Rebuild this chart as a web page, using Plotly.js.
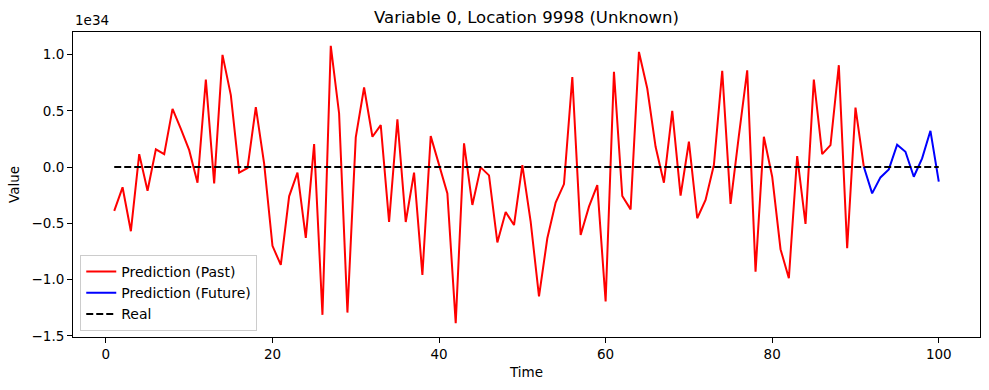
<!DOCTYPE html>
<html>
<head>
<meta charset="utf-8">
<script src="https://cdn.plot.ly/plotly-3.0.1.min.js"></script>
<style>html,body{margin:0;padding:0;background:#fff;}#chart{width:989px;height:390px;}</style>
</head>
<body>
<div id="chart"></div>
<script>
// Values are in units of 1e34 (matplotlib offset label "1e34")
const pastTime = [1,2,3,4,5,6,7,8,9,10,11,12,13,14,15,16,17,18,19,20,21,22,23,24,25,26,27,28,29,30,31,32,33,34,35,36,37,38,39,40,41,42,43,44,45,46,47,48,49,50,51,52,53,54,55,56,57,58,59,60,61,62,63,64,65,66,67,68,69,70,71,72,73,74,75,76,77,78,79,80,81,82,83,84,85,86,87,88,89,90,91];
const pastValues = [-0.39,-0.18,-0.57,0.115,-0.21,0.157,0.115,0.517,0.34,0.15,-0.139,0.778,-0.145,0.997,0.639,-0.05,-0.01,0.532,0.03,-0.70,-0.87,-0.26,-0.05,-0.63,0.204,-1.313,1.077,0.476,-1.293,0.263,0.707,0.269,0.373,-0.488,0.423,-0.488,-0.05,-0.958,0.275,0.03,-0.234,-1.387,0.21,-0.337,-0.003,-0.074,-0.67,-0.40,-0.515,0.018,-0.485,-1.15,-0.633,-0.316,-0.151,0.80,-0.603,-0.352,-0.16,-1.195,0.846,-0.257,-0.376,1.023,0.698,0.18,-0.139,0.50,-0.254,0.225,-0.455,-0.293,0.018,0.855,-0.328,0.28,0.86,-0.929,0.269,-0.086,-0.73,-0.988,0.097,-0.506,0.778,0.115,0.195,0.905,-0.722,0.529,0.003];
const futureTime = [91,92,93,94,95,96,97,98,99,100];
const futureValues = [0.003,-0.234,-0.092,-0.021,0.198,0.136,-0.086,0.077,0.322,-0.13];
const realTime = [1,2,3,4,5,6,7,8,9,10,11,12,13,14,15,16,17,18,19,20,21,22,23,24,25,26,27,28,29,30,31,32,33,34,35,36,37,38,39,40,41,42,43,44,45,46,47,48,49,50,51,52,53,54,55,56,57,58,59,60,61,62,63,64,65,66,67,68,69,70,71,72,73,74,75,76,77,78,79,80,81,82,83,84,85,86,87,88,89,90,91,92,93,94,95,96,97,98,99,100];
const realValues = realTime.map(() => 0);
const xTicks = [0,20,40,60,80,100];
const yTicks = [-1.5,-1.0,-0.5,0.0,0.5,1.0];

const font = "DejaVu Sans, sans-serif";
const traces = [
  {x: pastTime, y: pastValues, mode: 'lines', name: 'Prediction (Past)', line: {color: 'red', width: 2}},
  {x: futureTime, y: futureValues, mode: 'lines', name: 'Prediction (Future)', line: {color: 'blue', width: 2}},
  {x: realTime, y: realValues, mode: 'lines', name: 'Real', line: {color: 'black', width: 2, dash: '7px,3px'}}
];
const axisCommon = {
  showline: true, mirror: true, linecolor: 'black', linewidth: 1,
  showgrid: false, zeroline: false,
  ticks: 'outside', ticklen: 5, tickwidth: 1, tickcolor: 'black',
  tickfont: {family: font, size: 13.5, color: 'black'}
};
const layout = {
  width: 989, height: 390,
  margin: {l: 73, r: 9, t: 32, b: 53},
  paper_bgcolor: 'white', plot_bgcolor: 'white',
  showlegend: true,
  title: {text: 'Variable 0, Location 9998 (Unknown)', font: {family: font, size: 16.5, color: 'black'},
          x: 0.5, xref: 'paper', y: 1 - 17/390, yref: 'container', yanchor: 'middle'},
  xaxis: Object.assign({}, axisCommon, {
    range: [-3.95, 104.95], tickmode: 'array', tickvals: xTicks, ticktext: xTicks.map(String),
    title: {text: 'Time', font: {family: font, size: 13.5, color: 'black'}, standoff: 6}
  }),
  yaxis: Object.assign({}, axisCommon, {
    range: [-1.51, 1.2], tickmode: 'array', tickvals: yTicks,
    ticktext: yTicks.map(v => (v < 0 ? '\u2212' : '') + Math.abs(v).toFixed(1)),
    title: {text: 'Value', font: {family: font, size: 13.5, color: 'black'}, standoff: 8}
  }),
  legend: {
    x: 0.008, y: 0.02, xanchor: 'left', yanchor: 'bottom',
    bgcolor: 'rgba(255,255,255,0.8)', bordercolor: '#cccccc', borderwidth: 1,
    font: {family: font, size: 14, color: 'black'}, tracegroupgap: 0
  },
  annotations: [{
    text: '1e34', xref: 'paper', yref: 'paper', x: 0, y: 1, xanchor: 'left', yanchor: 'bottom',
    yshift: 2, showarrow: false, font: {family: font, size: 13.5, color: 'black'}
  }]
};
Plotly.newPlot('chart', traces, layout, {displayModeBar: false, staticPlot: true});
</script>
</body>
</html>
